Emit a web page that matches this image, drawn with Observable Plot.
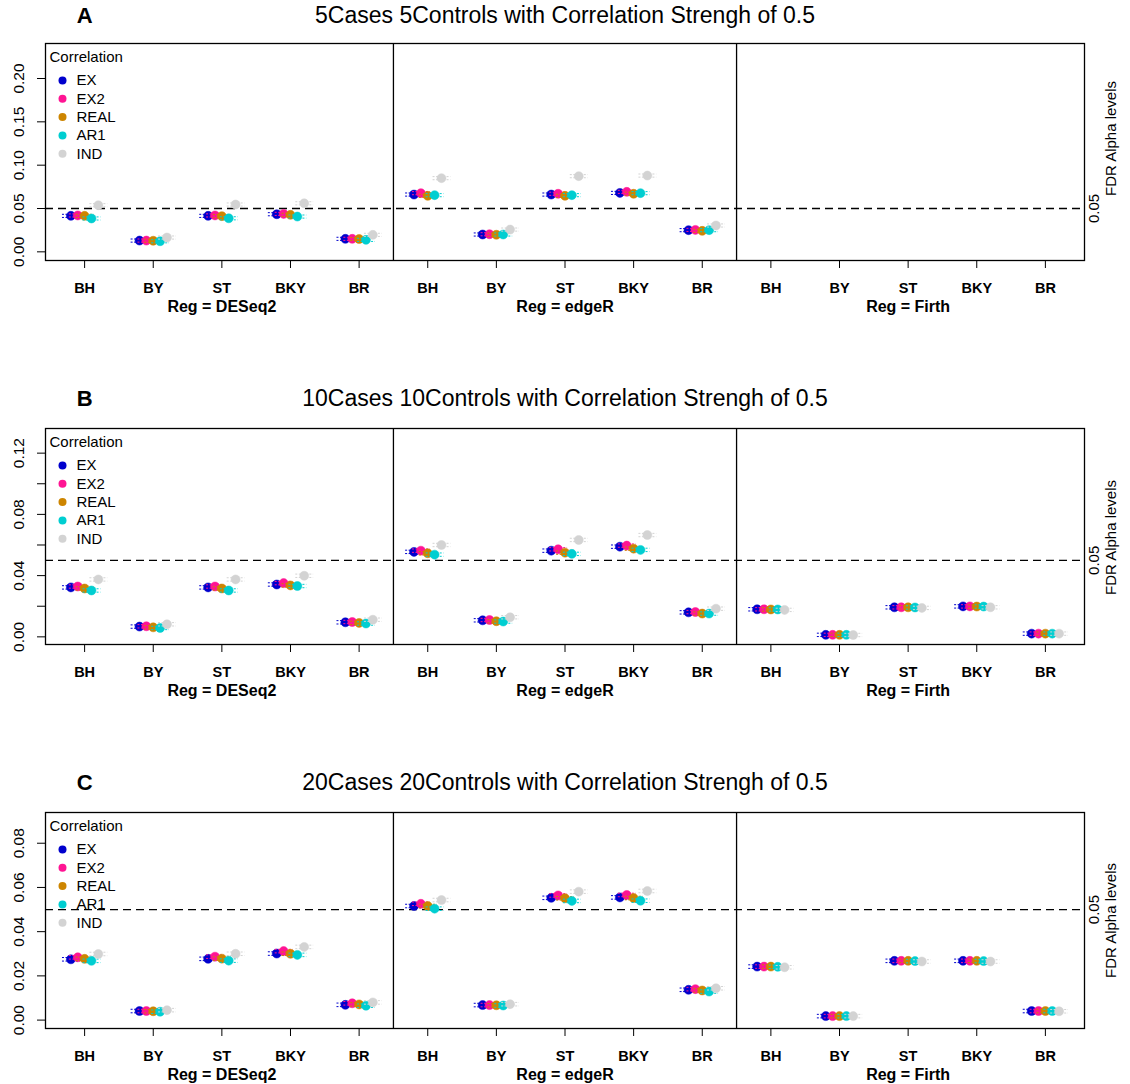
<!DOCTYPE html>
<html><head><meta charset="utf-8">
<script src="https://cdn.jsdelivr.net/npm/d3@7"></script>
<script src="https://cdn.jsdelivr.net/npm/@observablehq/plot@0.6"></script>
<style>
body{margin:0;background:#fff;}
#chart{width:1130px;}
#chart svg{display:block;}
</style></head><body><div id="chart"></div>
<script>
const methods = ["BH","BY","ST","BKY","BR"];
const regs = ["DESeq2","edgeR","Firth"];
const series = ["EX","EX2","REAL","AR1","IND"];
const colors = ["#0000CD","#FF1493","#CD8500","#00CED1","#D3D3D3"];

// rows: BH, BY, ST, BKY, BR ; columns: EX, EX2, REAL, AR1, IND
const A_DESeq2 = [
  [0.0415, 0.0420, 0.0415, 0.0385, 0.0538],
  [0.0130, 0.0130, 0.0128, 0.0122, 0.0165],
  [0.0415, 0.0420, 0.0412, 0.0387, 0.0546],
  [0.0434, 0.0438, 0.0427, 0.0407, 0.0560],
  [0.0150, 0.0150, 0.0148, 0.0138, 0.0196]
];
const A_edgeR = [
  [0.0661, 0.0677, 0.0646, 0.0654, 0.0850],
  [0.0200, 0.0203, 0.0197, 0.0200, 0.0257],
  [0.0661, 0.0670, 0.0646, 0.0654, 0.0873],
  [0.0680, 0.0692, 0.0670, 0.0677, 0.0880],
  [0.0250, 0.0253, 0.0242, 0.0250, 0.0304]
];
const A_Firth = [];

const B_DESeq2 = [
  [0.0323, 0.0329, 0.0316, 0.0303, 0.0375],
  [0.0067, 0.0069, 0.0062, 0.0058, 0.0082],
  [0.0323, 0.0329, 0.0316, 0.0303, 0.0375],
  [0.0342, 0.0351, 0.0336, 0.0332, 0.0399],
  [0.0095, 0.0097, 0.0091, 0.0087, 0.0112]
];
const B_edgeR = [
  [0.0555, 0.0563, 0.0546, 0.0537, 0.0600],
  [0.0108, 0.0110, 0.0102, 0.0100, 0.0128],
  [0.0563, 0.0572, 0.0550, 0.0542, 0.0633],
  [0.0589, 0.0596, 0.0576, 0.0568, 0.0665],
  [0.0160, 0.0162, 0.0152, 0.0152, 0.0184]
];
const B_Firth = [
  [0.0180, 0.0180, 0.0179, 0.0179, 0.0176],
  [0.0013, 0.0013, 0.0013, 0.0013, 0.0012],
  [0.0193, 0.0193, 0.0193, 0.0192, 0.0189],
  [0.0199, 0.0199, 0.0198, 0.0198, 0.0193],
  [0.0021, 0.0021, 0.0021, 0.0021, 0.0021]
];

const C_DESeq2 = [
  [0.0275, 0.0284, 0.0277, 0.0268, 0.0299],
  [0.0041, 0.0041, 0.0040, 0.0038, 0.0045],
  [0.0277, 0.0287, 0.0278, 0.0269, 0.0300],
  [0.0301, 0.0312, 0.0300, 0.0295, 0.0331],
  [0.0069, 0.0076, 0.0071, 0.0065, 0.0080]
];
const C_edgeR = [
  [0.0516, 0.0526, 0.0516, 0.0504, 0.0543],
  [0.0068, 0.0068, 0.0067, 0.0066, 0.0072],
  [0.0553, 0.0564, 0.0551, 0.0539, 0.0581],
  [0.0555, 0.0566, 0.0552, 0.0540, 0.0584],
  [0.0137, 0.0140, 0.0134, 0.0129, 0.0144]
];
const C_Firth = [
  [0.0242, 0.0242, 0.0242, 0.0241, 0.0239],
  [0.0018, 0.0018, 0.0018, 0.0018, 0.0018],
  [0.0268, 0.0268, 0.0268, 0.0267, 0.0265],
  [0.0268, 0.0268, 0.0268, 0.0267, 0.0265],
  [0.0041, 0.0041, 0.0041, 0.0041, 0.0040]
];

// half-widths of the small error bars, per series
const errA = [0.0018, 0.0018, 0.0018, 0.0018, 0.0018];
const errB = [0.0011, 0.0011, 0.0011, 0.0011, 0.0011];
const errC = [0.0008, 0.0008, 0.0008, 0.0008, 0.0008];

const titles = [
  "5Cases 5Controls with Correlation Strengh of 0.5",
  "10Cases 10Controls with Correlation Strengh of 0.5",
  "20Cases 20Controls with Correlation Strengh of 0.5"
];
const letters = ["A","B","C"];

const yTicksA = [0, 0.05, 0.10, 0.15, 0.20];
const yLabelsA = [0, 0.05, 0.10, 0.15, 0.20];
const yTicksB = [0, 0.02, 0.04, 0.06, 0.08, 0.10, 0.12];
const yLabelsB = [0, 0.04, 0.08, 0.12];
const yTicksC = [0, 0.02, 0.04, 0.06, 0.08];
const yLabelsC = [0, 0.02, 0.04, 0.06, 0.08];
const alphaLevel = [0.05];

const FONT = "'Liberation Sans', Arial, Helvetica, sans-serif";
const fmt = d3.format(".2f");

const panels = [
  {letter: letters[0], title: titles[0], data: [A_DESeq2, A_edgeR, A_Firth], err: errA,
   yDomain: [-0.0100, 0.2404], yTicks: yTicksA, yLabels: yLabelsA,
   height: 384, top: 43, bottom: 124, titleDy: -28, fdrDy: 95},
  {letter: letters[1], title: titles[1], data: [B_DESeq2, B_edgeR, B_Firth], err: errB,
   yDomain: [-0.0050, 0.1361], yTicks: yTicksB, yLabels: yLabelsB,
   height: 384, top: 44, bottom: 124, titleDy: -30, fdrDy: 109},
  {letter: letters[2], title: titles[2], data: [C_DESeq2, C_edgeR, C_Firth], err: errC,
   yDomain: [-0.0038, 0.0939], yTicks: yTicksC, yLabels: yLabelsC,
   height: 316, top: 44, bottom: 56, titleDy: -30, fdrDy: 108}
];

function makePanel(cfg) {
  const rows = [];
  cfg.data.forEach((facet, f) => facet.forEach((row, m) => row.forEach((v, s) => {
    rows.push({x: f * 5 + m + 1 + (s - 2) * 0.1, y: v, s, e: cfg.err[s]});
  })));
  const marks = [];
  marks.push(Plot.ruleY(alphaLevel, {stroke: "black", strokeWidth: 1.3, strokeDasharray: "8,5"}));
  marks.push(Plot.ruleX([5.5, 10.5], {stroke: "black", strokeWidth: 1.3}));
  series.forEach((name, s) => {
    const rs = rows.filter(d => d.s === s);
    const cap = sign => Plot.link(rs, {
      x1: d => d.x - 0.13, x2: d => d.x + 0.13,
      y1: d => d.y + sign * d.e, y2: d => d.y + sign * d.e,
      stroke: colors[s], strokeWidth: 1, strokeDasharray: "2,1.5"
    });
    marks.push(cap(1), cap(-1));
    marks.push(Plot.dot(rs, {x: "x", y: "y", r: 4.5, fill: colors[s], stroke: colors[s], strokeWidth: 0.5}));
  });
  marks.push(Plot.frame({stroke: "black", strokeWidth: 1.3}));
  marks.push(Plot.axisX({
    ticks: d3.range(1, 16), tickFormat: d => methods[(d - 1) % 5],
    tickSize: 8, tickPadding: 14, fontSize: 14.5, fontWeight: "bold", label: null, stroke: "black"
  }));
  marks.push(Plot.axisY({ticks: cfg.yTicks, tickSize: 8, tickFormat: () => "", label: null}));
  marks.push(Plot.text(cfg.yLabels, {
    y: d => d, text: d => fmt(d), frameAnchor: "left", dx: -26, rotate: -90,
    fontSize: 15.5, textAnchor: "middle", lineAnchor: "middle", fill: "black"
  }));
  marks.push(Plot.text(regs, {
    x: (d, i) => i * 5 + 3, text: d => "Reg = " + d, frameAnchor: "bottom", dy: 46,
    fontWeight: "bold", fontSize: 16, lineAnchor: "middle", fill: "black"
  }));
  marks.push(Plot.text([cfg.title], {text: d => d, frameAnchor: "top", dy: cfg.titleDy, fontSize: 23, lineAnchor: "middle", fill: "black"}));
  marks.push(Plot.text([cfg.letter], {x: () => 1, text: d => d, frameAnchor: "top", dy: cfg.titleDy, fontSize: 22, fontWeight: "bold", lineAnchor: "middle", fill: "black"}));
  marks.push(Plot.text(alphaLevel, {
    y: d => d, text: d => String(d).padEnd(4, "0"), frameAnchor: "right", dx: 10, rotate: -90,
    fontSize: 15, textAnchor: "middle", lineAnchor: "middle", fill: "black"
  }));
  marks.push(Plot.text(["FDR Alpha levels"], {
    text: d => d, frameAnchor: "top-right", dx: 27, dy: cfg.fdrDy, rotate: -90,
    fontSize: 15, textAnchor: "middle", lineAnchor: "middle", fill: "black"
  }));
  // legend
  marks.push(Plot.text(["Correlation"], {text: d => d, frameAnchor: "top-left", dx: 4, dy: 14, textAnchor: "start", lineAnchor: "middle", fontSize: 15, fill: "black"}));
  series.forEach((name, i) => {
    marks.push(Plot.dot([name], {frameAnchor: "top-left", dx: 17, dy: 37 + i * 18.3, r: 4, fill: colors[i]}));
    marks.push(Plot.text([name], {text: d => d, frameAnchor: "top-left", dx: 31, dy: 37 + i * 18.3, textAnchor: "start", lineAnchor: "middle", fontSize: 15, fill: "black"}));
  });

  return Plot.plot({
    width: 1130, height: cfg.height,
    marginLeft: 45, marginRight: 46, marginTop: cfg.top, marginBottom: cfg.bottom,
    x: {domain: [0.43, 15.57]},
    y: {domain: cfg.yDomain},
    style: {fontFamily: FONT, background: "white", color: "black", overflow: "visible"},
    marks
  });
}

const chart = document.getElementById("chart");
panels.forEach(p => chart.appendChild(makePanel(p)));
</script>
</body></html>
